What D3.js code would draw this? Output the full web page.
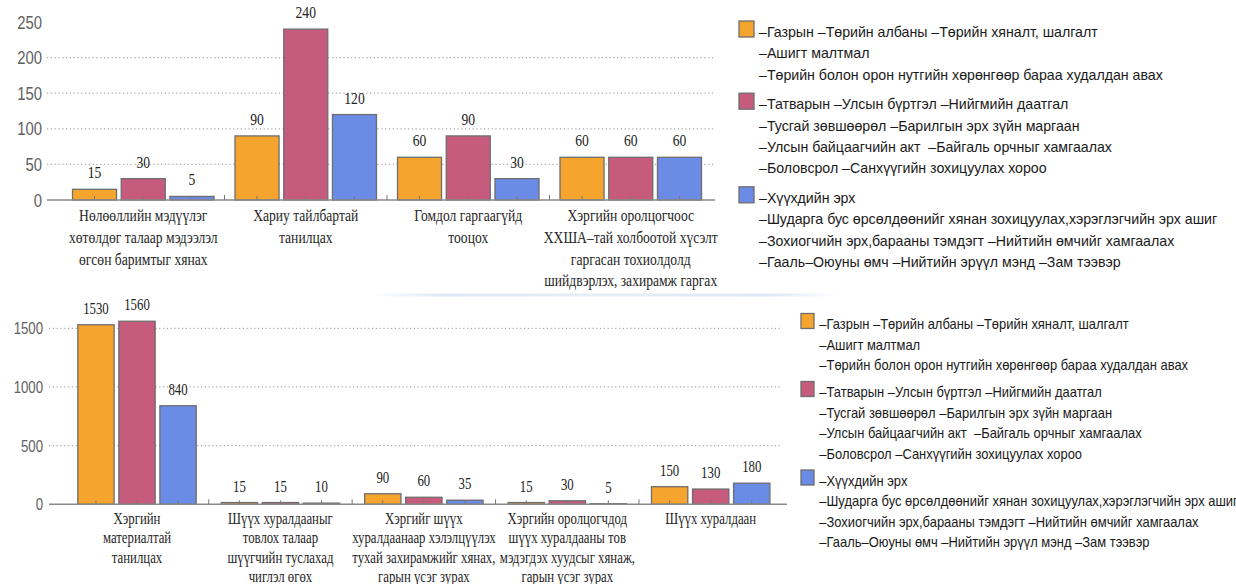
<!DOCTYPE html>
<html>
<head>
<meta charset="utf-8">
<script src="https://cdn.jsdelivr.net/npm/d3@7"></script>
<style>
  html, body { margin: 0; padding: 0; background: #ffffff; }
  svg { display: block; }
</style>
</head>
<body>
<svg id="chart" width="1236" height="584"></svg>
<script>
// ---------------- DATA ----------------
const seriesNames = ["Газрын", "Татварын", "Хүүхдийн эрх"];
const seriesColors = ["#F5A42E", "#C65B7E", "#6A8BE6"];

const topCategories = [
  ["Нөлөөллийн мэдүүлэг", "хөтөлдөг талаар мэдээлэл", "өгсөн баримтыг хянах"],
  ["Хариу тайлбартай", "танилцах"],
  ["Гомдол гаргаагүйд", "тооцох"],
  ["Хэргийн оролцогчоос", "ХХША–тай холбоотой хүсэлт", "гаргасан тохиолдолд", "шийдвэрлэх, захирамж гаргах"]
];
const topGazar   = [15, 90, 60, 60];
const topTatvar  = [30, 240, 90, 60];
const topHuuhed  = [5, 120, 30, 60];
const topTicks   = [0, 50, 100, 150, 200, 250];
const topGrid    = [50, 100, 150, 200];

const bottomCategories = [
  ["Хэргийн", "материалтай", "танилцах"],
  ["Шүүх хуралдааныг", "товлох талаар", "шүүгчийн туслахад", "чиглэл өгөх"],
  ["Хэргийг шүүх", "хуралдаанаар хэлэлцүүлэх", "тухай захирамжийг хянах,", "гарын үсэг зурах"],
  ["Хэргийн оролцогчдод", "шүүх хуралдааны тов", "мэдэгдэх хуудсыг хянаж,", "гарын үсэг зурах"],
  ["Шүүх хуралдаан"]
];
const bottomGazar  = [1530, 15, 90, 15, 150];
const bottomTatvar = [1560, 15, 60, 30, 130];
const bottomHuuhed = [840, 10, 35, 5, 180];
const bottomTicks  = [0, 500, 1000, 1500];
const bottomGrid   = [500, 1000, 1500];

const legendLines = [
  ["–Газрын –Төрийн албаны –Төрийн хяналт, шалгалт",
   "–Ашигт малтмал",
   "–Төрийн болон орон нутгийн хөрөнгөөр бараа худалдан авах"],
  ["–Татварын –Улсын бүртгэл –Нийгмийн даатгал",
   "–Тусгай зөвшөөрөл –Барилгын эрх зүйн маргаан",
   "–Улсын байцаагчийн акт  –Байгаль орчныг хамгаалах",
   "–Боловсрол –Санхүүгийн зохицуулах хороо"],
  ["–Хүүхдийн эрх",
   "–Шударга бус өрсөлдөөнийг хянан зохицуулах,хэрэглэгчийн эрх ашиг",
   "–Зохиогчийн эрх,барааны тэмдэгт –Нийтийн өмчийг хамгаалах",
   "–Гааль–Оюуны өмч –Нийтийн эрүүл мэнд –Зам тээвэр"]
];

// ---------------- DRAWING ----------------
const svg = d3.select("#chart");
const SERIF = "'Liberation Serif', 'Times New Roman', serif";
const SANS = "'Liberation Sans', Arial, sans-serif";

function stext(sel, x, y, s, size, sx, family, color, anchor) {
  return sel.append("text")
    .attr("transform", `translate(${x},${y}) scale(${sx},1)`)
    .attr("font-family", family)
    .attr("font-size", size)
    .attr("fill", color)
    .attr("text-anchor", anchor || "start")
    .attr("xml:space", "preserve")
    .style("white-space", "pre")
    .text(s);
}

// faint decorative line between the charts
const defs = svg.append("defs");
const grad = defs.append("linearGradient").attr("id", "fade").attr("x1", "0%").attr("x2", "100%");
grad.append("stop").attr("offset", "0%").attr("stop-color", "#ffffff");
grad.append("stop").attr("offset", "15%").attr("stop-color", "#dde9f7");
grad.append("stop").attr("offset", "50%").attr("stop-color", "#e6eef8");
grad.append("stop").attr("offset", "85%").attr("stop-color", "#dde9f7");
grad.append("stop").attr("offset", "100%").attr("stop-color", "#ffffff");
svg.append("rect").attr("x", 370).attr("y", 293.5).attr("width", 470).attr("height", 3).attr("fill", "url(#fade)");

function drawChart(cfg) {
  const g = svg.append("g");
  const cats = cfg.categories.map((c, i) => i);
  const x0 = d3.scaleBand().domain(cats).range(cfg.xRange).padding(0);
  const x1 = d3.scaleBand().domain([0, 1, 2])
    .range([cfg.groupPad, x0.bandwidth() - cfg.groupPad])
    .paddingInner(cfg.barPad).paddingOuter(0);
  const y = d3.scaleLinear().domain(cfg.yDomain).range(cfg.yRange);

  // grid lines
  g.selectAll(".grid").data(cfg.grid).enter().append("line")
    .attr("x1", cfg.axisX[0]).attr("x2", cfg.gridEnd)
    .attr("y1", d => y(d)).attr("y2", d => y(d))
    .attr("stroke", "#a8a8a8").attr("stroke-width", 1.2)
    .attr("stroke-dasharray", "1.2,2.6");

  // y tick labels
  cfg.ticks.forEach(t => {
    stext(g, cfg.yLabelX, y(t) + cfg.yLabelSize * 0.36, String(t), cfg.yLabelSize, 0.8, SANS, "#5f5f5f", "end");
  });

  // bars
  const values = cfg.series;
  cats.forEach(ci => {
    values.forEach((vals, si) => {
      const v = vals[ci];
      const bx = x0(ci) + x1(si);
      g.append("rect")
        .attr("x", bx).attr("y", y(v))
        .attr("width", x1.bandwidth()).attr("height", y(0) - y(v))
        .attr("fill", seriesColors[si])
        .attr("stroke", "#6e6e6e").attr("stroke-width", 1.3);
      // bar-centre tick
      g.append("line")
        .attr("x1", bx + x1.bandwidth() / 2).attr("x2", bx + x1.bandwidth() / 2)
        .attr("y1", y(0) - 4).attr("y2", y(0))
        .attr("stroke", "#777").attr("stroke-width", 1);
      stext(g, bx + x1.bandwidth() / 2, y(v) - cfg.valueGap, String(v), cfg.valueSize, 0.8, SERIF, "#222", "middle");
    });
  });

  // x axis line
  g.append("line")
    .attr("x1", cfg.axisX[0]).attr("x2", cfg.axisX[1])
    .attr("y1", y(0)).attr("y2", y(0))
    .attr("stroke", "#8a8a8a").attr("stroke-width", 1.6);
  // group boundary ticks
  cats.slice(1).forEach(ci => {
    g.append("line")
      .attr("x1", x0(ci)).attr("x2", x0(ci))
      .attr("y1", y(0) - 5).attr("y2", y(0))
      .attr("stroke", "#777").attr("stroke-width", 1);
  });

  // category labels
  cfg.categories.forEach((lines, ci) => {
    const cx = x0(ci) + x0.bandwidth() / 2;
    lines.forEach((ln, li) => {
      stext(g, cx, cfg.catY + li * cfg.catLine, ln, cfg.catSize, 0.8, SERIF, "#262626", "middle");
    });
  });
}

function drawLegend(cfg) {
  const g = svg.append("g");
  let yy = cfg.y0;
  legendLines.forEach((lines, si) => {
    g.append("rect")
      .attr("x", cfg.sqX).attr("y", yy - cfg.sqH / 2 - 3)
      .attr("width", cfg.sqW).attr("height", cfg.sqH)
      .attr("fill", seriesColors[si])
      .attr("stroke", "#6e6e6e").attr("stroke-width", 1.3);
    lines.forEach((ln, li) => {
      stext(g, cfg.textX, yy + 5, ln, cfg.size, cfg.sx, SANS, "#1a1a1a", "start");
      yy += cfg.line;
    });
    yy += cfg.gap;
  });
}

drawChart({
  categories: topCategories,
  series: [topGazar, topTatvar, topHuuhed],
  xRange: [62, 712],
  groupPad: 10.5,
  barPad: 0.0965,
  yDomain: [0, 250],
  yRange: [200, 22],
  grid: topGrid,
  ticks: topTicks,
  axisX: [47, 715],
  gridEnd: 713,
  yLabelX: 42,
  yLabelSize: 18.6,
  valueSize: 17,
  valueGap: 11,
  catY: 221,
  catLine: 21.8,
  catSize: 17
});

drawChart({
  categories: bottomCategories,
  series: [bottomGazar, bottomTatvar, bottomHuuhed],
  xRange: [65.3, 782.4],
  groupPad: 12.5,
  barPad: 0.115,
  yDomain: [0, 1500],
  yRange: [504.3, 328.3],
  grid: bottomGrid,
  ticks: bottomTicks,
  axisX: [49, 787],
  gridEnd: 782,
  yLabelX: 43,
  yLabelSize: 16.5,
  valueSize: 16,
  valueGap: 11,
  catY: 524,
  catLine: 19.4,
  catSize: 16
});

drawLegend({ sqX: 739, sqW: 15, sqH: 16, textX: 759, y0: 32, line: 21.4, gap: 8, size: 15, sx: 0.945 });
drawLegend({ sqX: 801, sqW: 13, sqH: 15, textX: 819.3, y0: 324, line: 20.5, gap: 6.5, size: 14, sx: 0.925 });
</script>
</body>
</html>
